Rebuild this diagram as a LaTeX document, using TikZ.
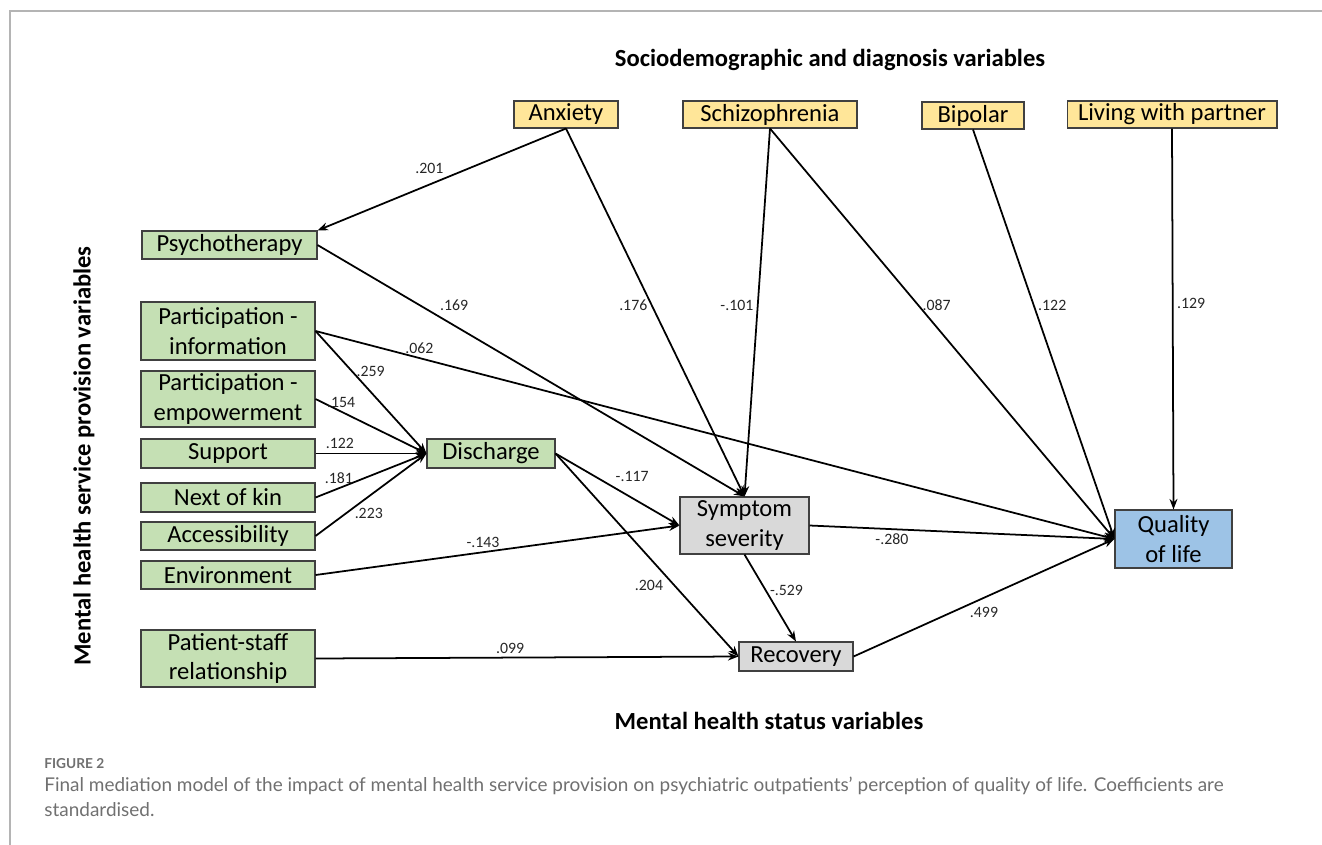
\documentclass[tikz,border=0pt]{standalone}
\usepackage{fontspec}
\setmainfont{Carlito}
\newfontfamily\capfont{Lato}
\usetikzlibrary{arrows.meta, positioning}

\definecolor{socioyellow}{HTML}{FFE699}
\definecolor{servgreen}{HTML}{C5E0B4}
\definecolor{statusgray}{HTML}{D9D9D9}
\definecolor{qolblue}{HTML}{9DC3E6}
\definecolor{framegray}{HTML}{B4B4B4}
\definecolor{capgray}{HTML}{707070}

\begin{document}
\begin{tikzpicture}[
  x=0.02cm, y=-0.02cm,
  >={Stealth[length=6pt, width=4.5pt]},
  link/.style={->, line width=1pt},
]
\tikzstyle{var}=[draw=black!75, line width=0.6pt, inner sep=0pt, align=center, font=\fontsize{14}{17}\selectfont]
\tikzstyle{socio}=[var, fill=socioyellow, minimum height=0.54cm]
\tikzstyle{serv}=[var, fill=servgreen, minimum width=3.48cm]
\tikzstyle{status}=[var, fill=statusgray]
\tikzstyle{coef}=[font=\fontsize{9}{10}\selectfont, inner sep=2pt, text=black!85]
\tikzstyle{heading}=[font=\bfseries\fontsize{14}{16}\selectfont, inner sep=0pt]

\useasboundingbox (0,0) rectangle (1322,845);

% ================= FRAME =================
\draw[framegray, line width=1pt] (10,845) -- (10,11) -- (1322,11);

% ================= HEADINGS =================
\node[heading] (top)  at (830,60)  {Sociodemographic and diagnosis variables};
\node[heading] (bot)  at (769,721) {Mental health status variables};
\node[heading, rotate=90] (side) at (84,456) {Mental health service provision variables};

% ================= SOCIODEMOGRAPHIC ROW =================
\node[socio, minimum width=2.08cm] (anx)    at (566,114.5)  {Anxiety};
\node[socio, minimum width=3.48cm] (schiz)  at (770,114.5)  {Schizophrenia};
\node[socio, minimum width=2.04cm] (bip)    at (973,115.5)  {Bipolar};
\node[socio, minimum width=4.2cm]  (living) at (1172,114.5) {Living with partner};

% ================= SERVICE COLUMN =================
\node[serv, minimum width=3.5cm, minimum height=0.56cm] (psy) at (229.5,245) {Psychotherapy};
\node[serv, minimum height=1.16cm] (pinfo)  at (228,331)   {Participation -\\information};
\node[serv, minimum height=1.12cm] (pemp)   at (228,399)   {Participation -\\empowerment};
\node[serv, minimum height=0.58cm] (supp)   at (228,453.5) {Support};
\node[serv, minimum height=0.58cm] (kin)    at (228,497.5) {Next of kin};
\node[serv, minimum height=0.56cm] (acc)    at (228,536)   {Accessibility};
\node[serv, minimum height=0.56cm] (env)    at (228,575)   {Environment};
\node[serv, minimum height=1.14cm] (pstaff) at (228,658.5) {Patient-staff\\relationship};
\node[serv, minimum width=2.56cm, minimum height=0.58cm] (disch) at (491,453.5) {Discharge};

% ================= STATUS / OUTCOME =================
\node[status, minimum width=2.58cm, minimum height=1.14cm] (symp) at (744.5,525.5) {Symptom\\severity};
\node[status, minimum width=2.28cm, minimum height=0.58cm] (rec)  at (796,656.5)   {Recovery};
\node[var, fill=qolblue, minimum width=2.34cm, minimum height=1.16cm] (qol) at (1173.5,539) {Quality\\of life};

% ===== From sociodemographic variables =====
\draw[link] (anx.south) -- node[coef, above=4pt, pos=.55] {.201} (psy.north east);
\draw[link] (anx.south) -- node[coef, left, pos=.48] {.176} (symp.north);
\draw[link] (schiz.south) -- node[coef, left, pos=.48] {-.101} (symp.north);
\draw[link] (schiz.south) -- node[coef, right, pos=.43] {.087} (qol.west);
\draw[link] (bip.south) -- node[coef, right, pos=.43] {.122} (qol.west);
\draw[link] (living.south) -- node[coef, right, pos=.46] {.129} (qol.north);

% ===== Into discharge =====
\foreach \src/\val/\p/\side/\d in {pinfo/.259/.33/right/0pt, pemp/.154/.23/above/0pt, supp/.122/.22/above/0pt, kin/.181/.21/above/0pt, acc/.223/.48/below/4pt}
  \draw[link] (\src.east) -- node[coef, \side=\d, pos=\p] {\val} (disch.west);

% ===== Into symptom severity =====
\draw[link] (psy.east) -- node[coef, above=6pt, pos=.32] {.169} (symp.north);
\draw[link] (env.east) -- node[coef, above, pos=.46] {-.143} (symp.west);
\draw[link] (disch.east) -- node[coef, above right, pos=.45] {-.117} (symp.west);

% ===== Into recovery =====
\draw[link] (disch.east) -- node[coef, left=4pt, pos=.65] {.204} (rec.west);
\draw[link] (symp.south) -- node[coef, right, pos=.41] {-.529} (rec.north);
\draw[link] (pstaff.east) -- node[coef, above, pos=.46] {.099} (rec.west);

% ===== Into quality of life =====
\draw[link] (pinfo.east) -- node[coef, above, pos=.13] {.062} (qol.west);
\draw[link] (symp.east) -- node[coef, below, pos=.27] {-.280} (qol.west);
\draw[link] (rec.east) -- node[coef, below=3pt, pos=.5] {.499} (qol.west);

% ================= CAPTION =================
\node[anchor=west, inner sep=0pt, text=capgray, font=\capfont\bfseries\fontsize{7.8}{9}\selectfont] (fig) at (44,764) {FIGURE 2};
\node[anchor=north west, inner sep=0pt, text=capgray, align=left, font=\capfont\fontsize{10.8}{14}\selectfont] (cap) at (44,777)
  {Final mediation model of the impact of mental health service provision on psychiatric outpatients’ perception of quality of life. Coefficients are\\standardised.};
\end{tikzpicture}
\end{document}
